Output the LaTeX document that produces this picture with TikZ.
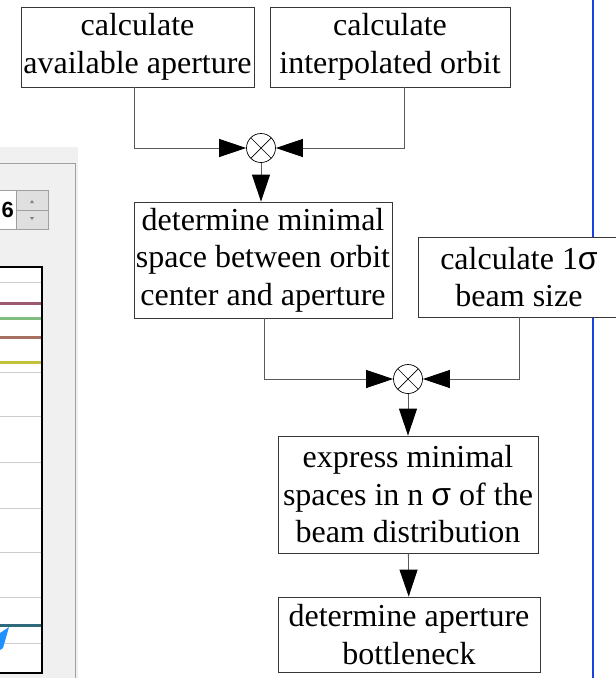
\documentclass[tikz,border=0pt]{standalone}
\usepackage{fontspec}
\setmainfont{Liberation Serif}
\setsansfont{Liberation Sans}
\usepackage{tikz}
\usetikzlibrary{arrows.meta,positioning,calc}
\definecolor{linegray}{RGB}{90,90,90}
\definecolor{boxgray}{RGB}{55,55,55}
\definecolor{panelgray}{RGB}{240,240,240}
\definecolor{framegray}{RGB}{160,160,160}
\definecolor{gridgray}{RGB}{205,205,205}
\definecolor{plotmauve}{RGB}{155,90,112}
\definecolor{plotgreen}{RGB}{128,190,128}
\definecolor{plotbrown}{RGB}{168,112,96}
\definecolor{plotolive}{RGB}{194,194,58}
\definecolor{plotteal}{RGB}{47,106,124}
\definecolor{cursorblue}{RGB}{30,144,255}
\definecolor{rulerblue}{RGB}{26,64,224}
\newcommand{\sig}{{\sffamily σ}}

\begin{document}
\begin{tikzpicture}[x=1pt,y=-1pt,
    procbox/.style={draw=boxgray, fill=white, line width=0.8pt, align=center,
        inner sep=0pt, font=\rmfamily\fontsize{32}{37.5}\selectfont},
    mixer/.style={draw=black, fill=white, circle, minimum size=29pt, inner sep=0pt,
        line width=0.7pt,
        path picture={\draw[line width=0.7pt]
            (path picture bounding box.north west) -- (path picture bounding box.south east)
            (path picture bounding box.north east) -- (path picture bounding box.south west);}},
    flow/.style={draw=linegray, line width=0.9pt,
        -{Triangle[length=27pt,width=18pt,color=black]}}]
    \useasboundingbox (0,0) rectangle (616,678);

    % --- Left: part of the tool window ---
    \fill[panelgray] (0,147) rectangle (78,678);
    \draw[framegray, line width=1pt] (0,163) -- (75,163) -- (75,678);
    \draw[framegray, fill=white] (-2,190) rectangle (16,229);
    \node[font=\sffamily\bfseries\fontsize{22}{22}\selectfont, anchor=east, inner sep=1pt] (count) at (15,210) {6};
    \draw[framegray, fill=panelgray!85!gray] (16,190) rectangle (48,210);
    \draw[framegray, fill=panelgray!85!gray] (16,210) rectangle (48,229);
    \fill[gray] (30,203) -- (34,203) -- (32,200) -- cycle;
    \fill[gray] (30,217) -- (34,217) -- (32,220) -- cycle;
    \draw[black, line width=1.2pt, fill=white] (-2,267) rectangle (42,673);
    \foreach \yy in {282,372,416,462,508,552,597,643} {
        \draw[gridgray, line width=1pt] (0,\yy) -- (41,\yy);
    }
    \foreach \yy/\cc in {303/plotmauve,318/plotgreen,337/plotbrown,362/plotolive,625/plotteal} {
        \draw[\cc, line width=3pt] (0,\yy) -- (41,\yy);
    }
    \fill[cursorblue] (9,627) -- (0,633) -- (0,650) -- (3,648) -- cycle;

    % --- Right: page edge ---
    \draw[rulerblue, line width=2.7pt] (593,0) -- (593,678);

    % --- Flow chart ---
    \node[procbox, minimum width=233pt, minimum height=80pt] (aperture) at (137.5,47) {calculate\\available aperture};
    \node[procbox, minimum width=240pt, minimum height=80pt] (orbit) at (390,47) {calculate\\interpolated orbit};
    \node[mixer] (mixA) at (261,148) {};
    \node[procbox, minimum width=258pt, minimum height=116pt] (space) at (263,260) {determine minimal\\space between orbit\\center and aperture};
    \node[procbox, minimum width=202pt, minimum height=80pt] (beam) at (519,277) {calculate 1\sig\\beam size};
    \node[mixer] (mixB) at (408,379) {};
    \node[procbox, minimum width=260pt, minimum height=117pt] (nsigma) at (408,494.5) {express minimal\\spaces in n \sig{} of the\\beam distribution};
    \node[procbox, minimum width=262pt, minimum height=75pt] (bottleneck) at (409,634.5) {determine aperture\\bottleneck};

    \draw[flow] ([xshift=-3.5pt]aperture.south) |- (mixA);
    \draw[flow] ([xshift=14pt]orbit.south) |- (mixA);
    \draw[flow] (mixA) -- (mixA |- space.north);
    \draw[flow] ([xshift=1pt]space.south) |- (mixB);
    \draw[flow] (beam.south) |- (mixB);
    \draw[flow] (mixB) -- (nsigma);
    \draw[flow] (nsigma) -- (bottleneck);
\end{tikzpicture}
\end{document}
